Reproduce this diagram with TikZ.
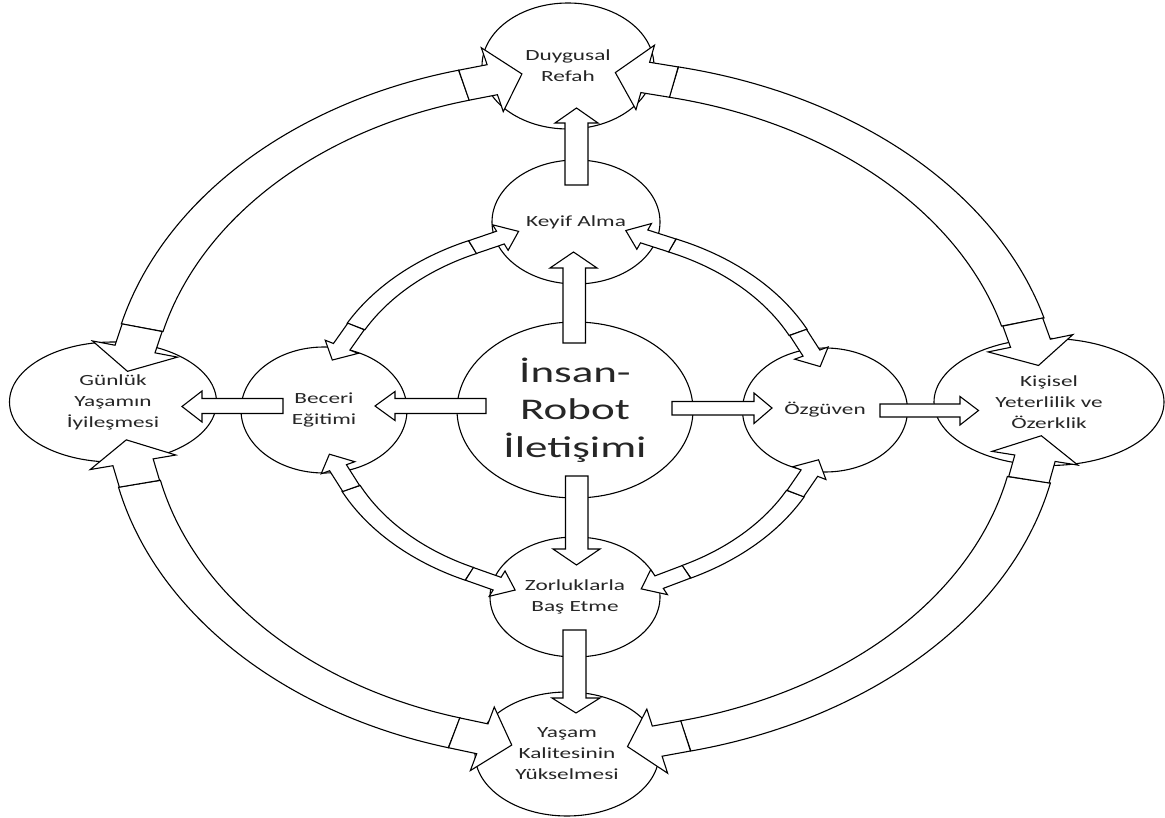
\documentclass[tikz,border=0pt]{standalone}
\usepackage{fontspec}
\newfontfamily\lblfont{Carlito}
\usetikzlibrary{shapes.geometric}
\newcommand{\stx}[1]{\scalebox{1.5}[1]{#1}}
\def\Sx{1.33}
\def\arw{15.5}\def\ars{22}\def\arH{33}\def\arL{23}
\newcommand{\bhead}[3]{%
 \draw[blk] ({(#1)-\Sx*\arw*sin(#3)},{(#2)+\arw*cos(#3)})
 -- ({(#1)+\Sx*(\ars*cos(#3)-\arw*sin(#3))},{(#2)+\ars*sin(#3)+\arw*cos(#3)})
 -- ({(#1)+\Sx*(\ars*cos(#3)-\arH*sin(#3))},{(#2)+\ars*sin(#3)+\arH*cos(#3)})
 -- ({(#1)+\Sx*(\ars+\arL)*cos(#3)},{(#2)+(\ars+\arL)*sin(#3)})
 -- ({(#1)+\Sx*(\ars*cos(#3)+\arH*sin(#3))},{(#2)+\ars*sin(#3)-\arH*cos(#3)})
 -- ({(#1)+\Sx*(\ars*cos(#3)+\arw*sin(#3))},{(#2)+\ars*sin(#3)-\arw*cos(#3)})
 -- ({(#1)+\Sx*\arw*sin(#3)},{(#2)-\arw*cos(#3)}) -- cycle;}
\newcommand{\band}[8]{%
 \draw[blk] plot[domain=#7:#8,samples=60] ({#1+#3*cos(\x)},{#2+#4*sin(\x)})
   -- plot[domain=#8:#7,samples=60] ({#1+#5*cos(\x)},{#2+#6*sin(\x)}) -- cycle;
 \bhead{#1+0.5*(#3+#5)*cos(#7)}{#2+0.5*(#4+#6)*sin(#7)}{#7-90}
 \bhead{#1+0.5*(#3+#5)*cos(#8)}{#2+0.5*(#4+#6)*sin(#8)}{#8+90}}
\begin{document}
\begin{tikzpicture}[x=1pt,y=-1pt,
  blk/.style={draw=black,fill=white,line width=1.1pt,line join=miter},
  blob/.style={ellipse,draw=black,fill=white,line width=1.1pt,inner sep=0pt},
  lbl/.style={font=\lblfont\fontsize{15.5}{21}\selectfont,align=center,text=black!85,inner sep=0pt},
  big/.style={font=\lblfont\fontsize{30}{37.7}\selectfont,align=center,text=black!85,inner sep=0pt}]
\useasboundingbox (0,0) rectangle (1165,818);
% nodes (shapes)
\node[blob,minimum width=172pt,minimum height=126pt] (duy) at (568,66) {};
\node[blob,minimum width=168pt,minimum height=124pt] (key) at (576,222) {};
\node[blob,minimum width=236pt,minimum height=176pt] (ins) at (575,410) {};
\node[blob,minimum width=166pt,minimum height=126pt] (bec) at (324,410) {};
\node[blob,minimum width=207pt,minimum height=120pt] (gun) at (113,402) {};
\node[blob,minimum width=165pt,minimum height=124pt] (ozg) at (825,410) {};
\node[blob,minimum width=230pt,minimum height=127pt] (kis) at (1049,402) {};
\node[blob,minimum width=170pt,minimum height=120pt] (zor) at (575,597) {};
\node[blob,minimum width=184pt,minimum height=124pt] (yas) at (567,754) {};
% outer ring
\band{576}{410}{469}{351}{426}{320}{194.2}{255.5}
\band{576}{410}{485}{351}{441}{320}{-77.8}{-15.2}
\band{576}{410}{485}{351}{441}{320}{12}{76.3}
\band{576}{410}{469}{351}{426}{320}{105.8}{167.3}
% inner ring
\def\arw{7}\def\ars{23}\def\arH{14}\def\arL{15}
\band{575}{411}{258}{187}{238}{173}{208}{245.6}
\band{575}{411}{258}{187}{238}{173}{-66.9}{-25.9}
\band{575}{411}{258}{187}{238}{173}{27.3}{63.3}
\band{575}{411}{258}{187}{238}{173}{115.2}{154.5}
% straight arrows
\draw[blk] (565,185) -- (565,123) -- (555,123) -- (576.5,108) -- (598,123) -- (588,123) -- (588,185) -- cycle;
\draw[blk] (563,343) -- (563,268) -- (550,268) -- (573.5,252) -- (597,268) -- (585.5,268) -- (585.5,343) -- cycle;
\draw[blk] (565.5,476) -- (565.5,549) -- (553,549) -- (576.5,565) -- (600,549) -- (588,549) -- (588,476) -- cycle;
\draw[blk] (563,630) -- (563,698) -- (552,698) -- (576,713) -- (600,698) -- (586,698) -- (586,630) -- cycle;
\draw[blk] (486,398.5) -- (395,398.5) -- (395,391.5) -- (375,406) -- (395,420.5) -- (395,413.5) -- (486,413.5) -- cycle;
\draw[blk] (283,398.5) -- (202,398.5) -- (202,391) -- (182,406.5) -- (202,422) -- (202,413.5) -- (283,413.5) -- cycle;
\draw[blk] (672,401.5) -- (754,401.5) -- (754,393) -- (772,408) -- (754,423.5) -- (754,415) -- (672,415) -- cycle;
\draw[blk] (880,404) -- (960,404) -- (960,396.5) -- (978.5,410.5) -- (960,425) -- (960,417) -- (880,417) -- cycle;
% labels
\node[lbl] at (duy) {\stx{Duygusal}\\\stx{Refah}};
\node[lbl] at (key) {\stx{Keyif Alma}};
\node[big] at (ins) {\stx{İnsan-}\\\stx{Robot}\\\stx{İletişimi}};
\node[lbl] at (bec) {\stx{Beceri}\\\stx{Eğitimi}};
\node[lbl] at (gun) {\stx{Günlük}\\\stx{Yaşamın}\\\stx{İyileşmesi}};
\node[lbl] at (ozg) {\stx{Özgüven}};
\node[lbl] at (kis) {\stx{Kişisel}\\\stx{Yeterlilik ve}\\\stx{Özerklik}};
\node[lbl] at (zor) {\stx{Zorluklarla}\\\stx{Baş Etme}};
\node[lbl] at (yas) {\stx{Yaşam}\\\stx{Kalitesinin}\\\stx{Yükselmesi}};
\end{tikzpicture}
\end{document}
